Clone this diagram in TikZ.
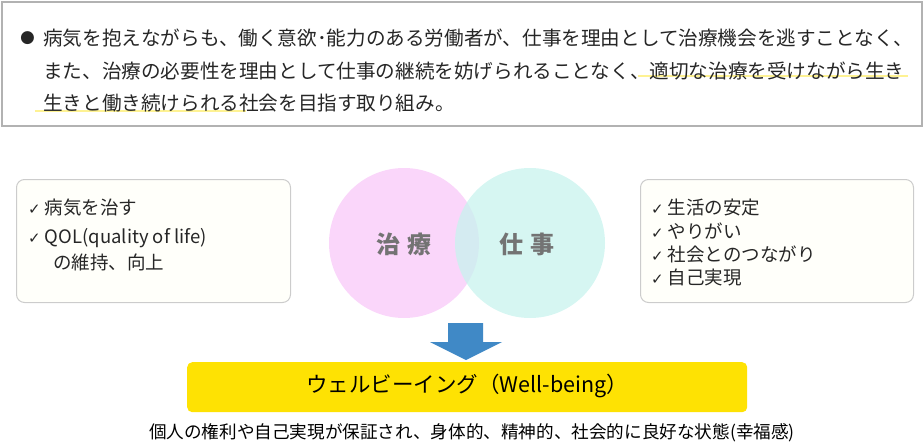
\documentclass[tikz,border=0pt]{standalone}
\usepackage{fontspec}
\setmainfont{Noto Sans CJK JP}
\newfontfamily\djvs{DejaVu Sans}
\definecolor{pk}{RGB}{250,214,250}
\definecolor{tl}{RGB}{200,243,238}
\begin{document}
\begin{tikzpicture}[x=1pt,y=-1pt,
 txt/.style={anchor=west,inner sep=0,font=\fontsize{19.6}{22}\selectfont,text=black!85},
 stxt/.style={anchor=west,inner sep=0,font=\fontsize{18.5}{22}\selectfont,text=black!85},
 side/.style={draw=black!20,fill=black!1.5!yellow!2,rounded corners=8pt,line width=1pt},
 hl/.style={draw=yellow!85!orange!60,line width=2.5pt,opacity=0.7}]
\useasboundingbox (0,0) rectangle (924,444);
\node[draw=black!30,line width=2pt,minimum width=920,minimum height=124,anchor=north west,inner sep=0] (top) at (1,1) {};
\draw[hl] (638,76) -- (908,76);
\draw[hl] (35,111) -- (246,111);
\node[txt] (b) at (20,38) {\djvs\fontsize{17}{20}\selectfont ●};
\node[txt] (l1) at (43,38) {病気を抱えながらも、働く意欲･能力のある労働者が、仕事を理由として治療機会を逃すことなく、};
\node[txt] (l2) at (43,71) {また、治療の必要性を理由として仕事の継続を妨げられることなく、適切な治療を受けながら生き};
\node[txt] (l3) at (43,103) {生きと働き続けられる社会を目指す取り組み。};
\fill[pk] (404,243) circle (75);
\fill[tl,opacity=0.75] (530,243) circle (75);
\node[font=\fontsize{24}{26}\selectfont\bfseries,text=black!55] (c1) at (404,244) {治\,\,療};
\node[font=\fontsize{24}{26}\selectfont\bfseries,text=black!55] (c2) at (527,244) {仕\,\,事};
\node[side,minimum width=274,minimum height=123,anchor=north west] (L) at (16,179) {};
\node[side,minimum width=273,minimum height=123,anchor=north west] (R) at (640,179) {};
\node[stxt] (a1) at (28,208) {{\djvs\fontsize{15}{16}\selectfont ✓}\ 病気を治す};
\node[stxt] (a2) at (28,238) {{\djvs\fontsize{15}{16}\selectfont ✓}\ QOL(quality of life)};
\node[stxt] (a3) at (53,262) {の維持、向上};
\node[stxt] (r1) at (651,208) {{\djvs\fontsize{15}{16}\selectfont ✓}\ 生活の安定};
\node[stxt] (r2) at (651,231) {{\djvs\fontsize{15}{16}\selectfont ✓}\ やりがい};
\node[stxt] (r3) at (651,254) {{\djvs\fontsize{15}{16}\selectfont ✓}\ 社会とのつながり};
\node[stxt] (r4) at (651,278) {{\djvs\fontsize{15}{16}\selectfont ✓}\ 自己実現};
\fill[blue!45!cyan!70!black!75] (448,323) -- (483,323) -- (483,342) -- (502,342) -- (466,360) -- (430,342) -- (448,342) -- cycle;
\node[fill=yellow!85!orange,rounded corners=5pt,minimum width=560,minimum height=50,anchor=north west,inner sep=0] (W) at (187,362) {};
\node[font=\fontsize{21.5}{24}\selectfont,text=black] (wt) at (467,386) {ウェルビーイング（Well-being）};
\node[font=\fontsize{17.6}{20}\selectfont,text=black] (cap) at (472,433) {個人の権利や自己実現が保証され、身体的、精神的、社会的に良好な状態(幸福感)};
\end{tikzpicture}
\end{document}
